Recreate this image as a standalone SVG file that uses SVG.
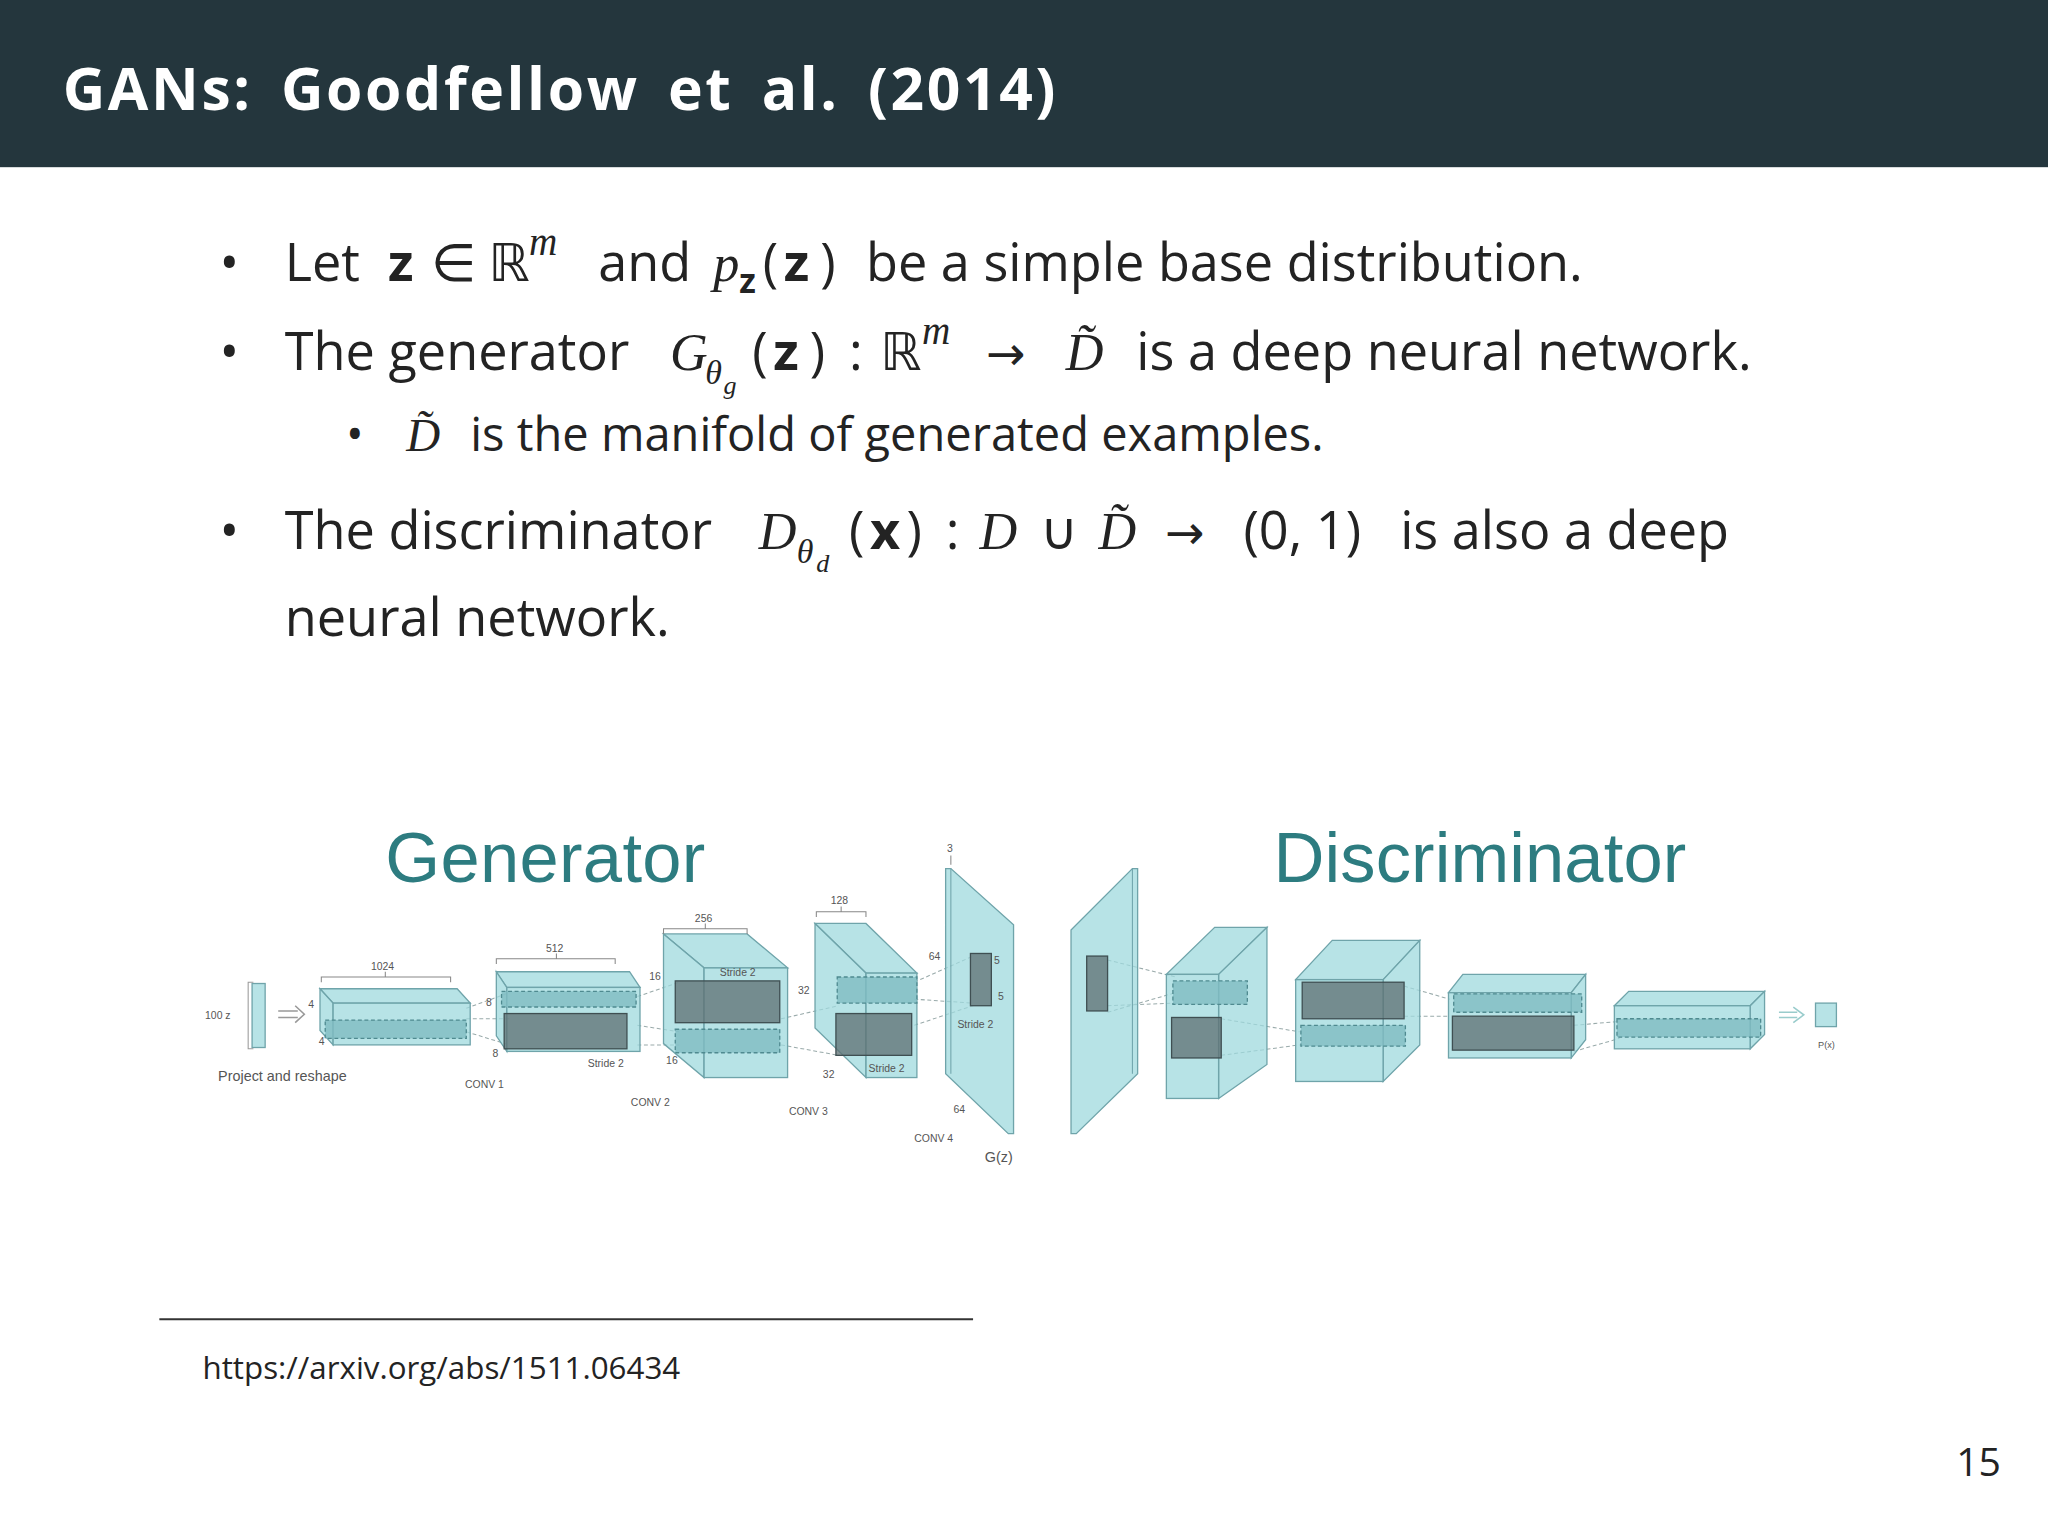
<svg xmlns="http://www.w3.org/2000/svg" width="2048" height="1536" viewBox="0 0 2048 1536">
<style>
.b{font-family:"Open Sans","Noto Sans",sans-serif;font-size:40px;fill:#232323}
.m{font-family:"Liberation Serif","DejaVu Serif",serif;font-style:italic}
.ar{font-family:"DejaVu Sans",sans-serif;font-size:36px}
.bd{font-weight:bold}
.l{font-family:"Liberation Sans",Arial,sans-serif;font-size:8px;fill:#555}
.box{fill:#9fd9dd;fill-opacity:0.75;stroke:#6fa4aa;stroke-width:1}
.dk{fill:#5e6f72;fill-opacity:0.75;stroke:#3f4f52;stroke-width:1}
.ds{fill:#7fbcc2;fill-opacity:0.8;stroke:#4f8a90;stroke-width:1;stroke-dasharray:3 2}
.cn{stroke:#9aa;stroke-width:0.8;stroke-dasharray:3 2;fill:none}
.hd{font-family:"Liberation Sans",Arial,sans-serif;font-size:54px;fill:#2d7c80}
</style>
<rect width="2048" height="1536" fill="#fff"/>
<g transform="scale(1.306122)">
<g id="header"><rect x="0" y="0" width="1568" height="128" fill="#24363d"/>
<text x="48" y="84" class="b bd" style="font-size:45px;fill:#fff;letter-spacing:2px;word-spacing:8px">GANs: Goodfellow et al. (2014)</text></g>
<g id="bullets">
<text x="168" y="215" class="b">•</text>
<text class="b" y="215"><tspan x="218">Let</tspan><tspan x="297" class="bd">z</tspan><tspan x="330">∈</tspan><tspan x="374" font-family="DejaVu Sans">ℝ</tspan><tspan x="405" y="195" class="m" style="font-size:30px">m</tspan><tspan x="458" y="215">and</tspan><tspan x="546" class="m">p</tspan><tspan x="566" y="224" class="bd" style="font-size:26px">z</tspan><tspan x="584" y="215">(</tspan><tspan x="600" class="bd">z</tspan><tspan x="628">)</tspan><tspan x="663">be a simple base distribution.</tspan></text>
<text x="168" y="283" class="b">•</text>
<text class="b" y="283"><tspan x="218">The generator</tspan><tspan x="513" class="m">G</tspan><tspan x="540" y="294" class="m" style="font-size:26px">θ</tspan><tspan x="554" y="302" class="m" style="font-size:20px">g</tspan><tspan x="576" y="283">(</tspan><tspan x="592" class="bd">z</tspan><tspan x="620">)</tspan><tspan x="650">:</tspan><tspan x="674" font-family="DejaVu Sans">ℝ</tspan><tspan x="706" y="263" class="m" style="font-size:30px">m</tspan><tspan x="755" y="283" class="ar">→</tspan><tspan x="816" class="m">D̃</tspan><tspan x="870">is a deep neural network.</tspan></text>
<text class="b" y="345" style="font-size:36px"><tspan x="265">•</tspan><tspan x="311" class="m">D̃</tspan><tspan x="360">is the manifold of generated examples.</tspan></text>
<text x="168" y="420" class="b">•</text>
<text class="b" y="420"><tspan x="218">The discriminator</tspan><tspan x="581" class="m">D</tspan><tspan x="610" y="431" class="m" style="font-size:26px">θ</tspan><tspan x="625" y="438" class="m" style="font-size:20px">d</tspan><tspan x="650" y="420">(</tspan><tspan x="666" class="bd">x</tspan><tspan x="694">)</tspan><tspan x="724">:</tspan><tspan x="750" class="m">D</tspan><tspan x="796">∪</tspan><tspan x="841" class="m">D̃</tspan><tspan x="892" class="ar">→</tspan><tspan x="952">(0, 1)</tspan><tspan x="1072">is also a deep</tspan></text>
<text x="218" y="487" class="b">neural network.</text>
</g>
<g id="titles"><text x="295" y="675" class="hd" textLength="245">Generator</text><text x="975" y="675" class="hd" textLength="316">Discriminator</text></g>
<g id="connectors">
<path class="cn" d="M357 772 L390 760 M357 790 L390 800 M357 780 L390 780 M488 763 L520 752 M488 800 L520 800 M488 785 L520 790 M598 780 L642 770 M598 800 L642 808 M700 752 L745 732 M700 765 L745 768 M700 785 L745 770 M848 735 L900 748 M848 770 L900 768 M848 775 L900 760 M935 780 L995 790 M935 808 L995 800 M1075 755 L1110 765 M1075 778 L1110 778 M1205 785 L1240 782 M1205 805 L1240 795"/>
</g>
<g id="z"><rect x="193" y="753" width="10" height="49" class="box"/><path d="M194 752 H190 V803 H194" fill="none" stroke="#999" stroke-width="0.8"/><text x="157" y="780" class="l">100 z</text>
<path d="M213 774 H228 M213 779 H228 M226 770 L233 776.5 L226 783" fill="none" stroke="#999" stroke-width="1.2"/>
<text x="167" y="828" class="l" style="font-size:11px">Project and reshape</text></g>
<g id="conv1"><polygon class="box" points="245,757 350,757 360,768 255,768"/><polygon class="box" points="245,757 255,768 255,800 245,789"/><rect class="box" x="255" y="768" width="105" height="32"/>
<rect class="ds" x="249" y="781" width="108" height="14"/>
<path d="M246 752 V748 H345 V752 M295 748 V744" fill="none" stroke="#888" stroke-width="0.8"/><text x="284" y="743" class="l">1024</text><text x="236" y="772" class="l">4</text><text x="244" y="800" class="l">4</text></g>
<g id="conv2"><polygon class="box" points="380,744 482,744 490,756 388,756"/><polygon class="box" points="380,744 388,756 388,805 380,793"/><rect class="box" x="388" y="756" width="102" height="49"/>
<rect class="ds" x="384" y="759" width="103" height="12"/><rect class="dk" x="386" y="776" width="94" height="27"/>
<path d="M380 738 V734 H471 V738 M426 734 V730" fill="none" stroke="#888" stroke-width="0.8"/><text x="418" y="729" class="l">512</text><text x="372" y="770" class="l">8</text><text x="377" y="809" class="l">8</text><text x="450" y="817" class="l">Stride 2</text><text x="356" y="833" class="l">CONV 1</text></g>
<g id="conv3"><polygon class="box" points="508,715 572,715 603,741 539,741"/><polygon class="box" points="508,715 539,741 539,825 508,799"/><rect class="box" x="539" y="741" width="64" height="84"/>
<rect class="dk" x="517" y="751" width="80" height="32"/><rect class="ds" x="517" y="788" width="80" height="18"/>
<path d="M508 715 V711 H572 V715 M540 711 V707" fill="none" stroke="#888" stroke-width="0.8"/><text x="532" y="706" class="l">256</text><text x="497" y="750" class="l">16</text><text x="510" y="815" class="l">16</text><text x="551" y="747" class="l">Stride 2</text><text x="483" y="847" class="l">CONV 2</text></g>
<g id="conv4"><polygon class="box" points="624,707 663,707 702,745 663,745"/><polygon class="box" points="624,707 663,745 663,825 624,787"/><rect class="box" x="663" y="745" width="39" height="80"/>
<rect class="ds" x="641" y="748" width="61" height="20"/><rect class="dk" x="640" y="776" width="58" height="32"/>
<path d="M625 702 V698 H663 V702 M644 698 V694" fill="none" stroke="#888" stroke-width="0.8"/><text x="636" y="692" class="l">128</text><text x="611" y="761" class="l">32</text><text x="630" y="825" class="l">32</text><text x="665" y="821" class="l">Stride 2</text><text x="604" y="854" class="l">CONV 3</text></g>
<g id="gz"><polygon class="box" points="724,665 728,665 776,708 776,868 772,868 724,822"/><line x1="728" y1="665" x2="728" y2="822" stroke="#6fa4aa" stroke-width="0.8"/>
<rect class="dk" x="743" y="730" width="16" height="40"/><path d="M728 662 V655" stroke="#888" stroke-width="0.8"/><text x="725" y="652" class="l">3</text>
<text x="711" y="735" class="l">64</text><text x="730" y="852" class="l">64</text><text x="733" y="787" class="l">Stride 2</text><text x="761" y="738" class="l">5</text><text x="764" y="766" class="l">5</text><text x="700" y="874" class="l">CONV 4</text><text x="754" y="890" class="l" style="font-size:11px">G(z)</text></g>
<g id="dplane"><polygon class="box" points="820,712 867,665 871,665 871,822 824,868 820,868"/><line x1="867" y1="665" x2="867" y2="822" stroke="#6fa4aa" stroke-width="0.8"/><rect class="dk" x="832" y="732" width="16" height="42"/></g>
<g id="d1"><polygon class="box" points="893,746 933,746 970,710 930,710"/><polygon class="box" points="933,746 970,710 970,815 933,841"/><rect class="box" x="893" y="746" width="40" height="95"/>
<rect class="ds" x="898" y="751" width="57" height="18"/><rect class="dk" x="897" y="779" width="38" height="31"/></g>
<g id="d2"><polygon class="box" points="992,750 1059,750 1087,720 1020,720"/><polygon class="box" points="1059,750 1087,720 1087,800 1059,828"/><rect class="box" x="992" y="750" width="67" height="78"/>
<rect class="dk" x="997" y="752" width="78" height="28"/><rect class="ds" x="996" y="785" width="80" height="16"/></g>
<g id="d3"><polygon class="box" points="1109,760 1203,760 1214,746 1120,746"/><polygon class="box" points="1203,760 1214,746 1214,796 1203,810"/><rect class="box" x="1109" y="760" width="94" height="50"/>
<rect class="ds" x="1113" y="761" width="98" height="14"/><rect class="dk" x="1112" y="778" width="93" height="26"/></g>
<g id="d4"><polygon class="box" points="1236,770 1340,770 1351,759 1247,759"/><polygon class="box" points="1340,770 1351,759 1351,792 1340,803"/><rect class="box" x="1236" y="770" width="104" height="33"/>
<rect class="ds" x="1238" y="780" width="110" height="14"/></g>
<g id="px"><path d="M1362 775 H1376 M1362 779 H1376 M1373 771 L1381 777 L1373 783" fill="none" stroke="#9cc" stroke-width="1.2"/><rect class="box" x="1390" y="768" width="16" height="18"/><text x="1392" y="802" class="l" style="font-size:7px">P(x)</text></g>
<g id="footer"><line x1="122" y1="1010" x2="745" y2="1010" stroke="#333" stroke-width="1.5"/>
<text x="155" y="1056" class="b" style="font-size:24px">https://arxiv.org/abs/1511.06434</text>
<text x="1532" y="1130" class="b" style="font-size:30px" text-anchor="end">15</text></g>
</g>
</svg>
